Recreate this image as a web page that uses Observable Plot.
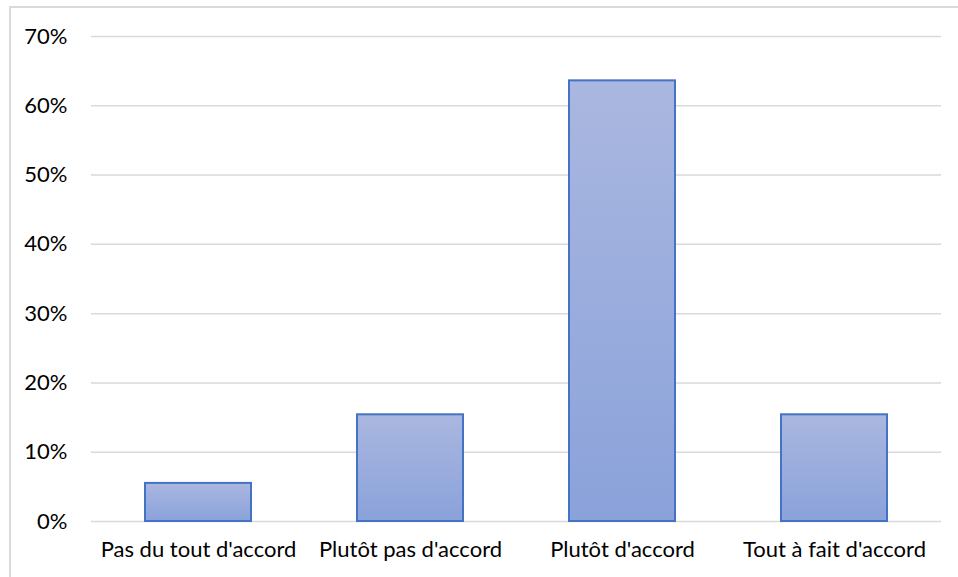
<!DOCTYPE html>
<html>
<head>
<meta charset="utf-8">
<script src="https://cdn.jsdelivr.net/npm/d3@7"></script>
<script src="https://cdn.jsdelivr.net/npm/@observablehq/plot@0.6"></script>
<style>
  html, body { margin: 0; padding: 0; background: #fff; }
  #wrap { position: relative; width: 958px; height: 577px; overflow: hidden; }
  #border { position: absolute; left: 9px; top: 6px; width: 1000px; height: 1000px;
            border-left: 2px solid #d9d9d9; border-top: 2px solid #d9d9d9; box-sizing: border-box; pointer-events: none; }
  #chart { position: absolute; left: 0; top: 0; }
</style>
</head>
<body>
<div id="wrap">
  <div id="border"></div>
  <div id="chart"></div>
</div>
<script>
const categories = ["Pas du tout d'accord", "Plutôt pas d'accord", "Plutôt d'accord", "Tout à fait d'accord"];
const values = [0.055, 0.154, 0.636, 0.154];
const yTicks = [0, 0.1, 0.2, 0.3, 0.4, 0.5, 0.6, 0.7];

const data = categories.map((c, i) => ({category: c, value: values[i]}));
const FONT = "Lato, 'Open Sans', sans-serif";

const chart = Plot.plot({
  width: 958,
  height: 577,
  marginLeft: 91,
  marginRight: 17,
  marginTop: 36,
  marginBottom: 56,
  style: {fontFamily: FONT, color: "#000", background: "transparent", overflow: "visible"},
  x: {domain: categories, paddingInner: 0.5, paddingOuter: 0.25, label: null},
  y: {domain: [0, 0.7], label: null},
  marks: [
    Plot.ruleY(yTicks, {stroke: "#d9d9d9", strokeWidth: 1.5, strokeOpacity: 1}),
    Plot.barY(data, {x: "category", y: "value", fill: "url(#barGrad)", stroke: "#4472c4", strokeWidth: 2}),
    Plot.axisY({ticks: yTicks, tickFormat: d => Math.round(d * 100) + "%", tickSize: 0, tickPadding: 24, fontSize: 22, label: null, fill: "#000"}),
    Plot.axisX({tickSize: 0, tickPadding: 20, fontSize: 22, label: null, fill: "#000"})
  ]
});

const ns = "http://www.w3.org/2000/svg";
const defs = document.createElementNS(ns, "defs");
const grad = document.createElementNS(ns, "linearGradient");
grad.setAttribute("id", "barGrad");
grad.setAttribute("x1", "0"); grad.setAttribute("y1", "0");
grad.setAttribute("x2", "0"); grad.setAttribute("y2", "1");
[["0%", "#aab7e0"], ["100%", "#8aa2da"]].forEach(([o, c]) => {
  const s = document.createElementNS(ns, "stop");
  s.setAttribute("offset", o); s.setAttribute("stop-color", c);
  grad.appendChild(s);
});
defs.appendChild(grad);
chart.insertBefore(defs, chart.firstChild);

document.getElementById("chart").appendChild(chart);
</script>
</body>
</html>
